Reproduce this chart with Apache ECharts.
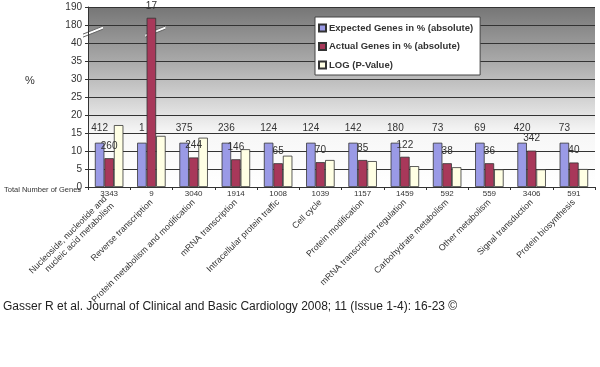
<!DOCTYPE html>
<html><head><meta charset="utf-8">
<script src="https://cdn.jsdelivr.net/npm/echarts@6/dist/echarts.min.js"></script>
<style>html,body{margin:0;padding:0;background:#fff}#c{width:600px;height:367px}</style>
</head><body><div id="c"></div>
<script>
const categories = ["Nucleoside, nucleotide and\nnucleic acid metabolism","Reverse transcription","Protein metabolism and modification","mRNA transcription","Intracellular protein traffic","Cell cycle","Protein modification","mRNA transcription regulation","Carbohydrate metabolism","Other metabolism","Signal transduction","Protein biosynthesis"];
const totalGenes = ["3343","9","3040","1914","1008","1039","1157","1459","592","559","3406","591"];
const expectedPct = [12.3,12.3,12.3,12.3,12.3,12.3,12.3,12.3,12.3,12.3,12.3,12.3];
const actualPct = [8.0,184,8.2,7.7,6.6,6.9,7.5,8.4,6.6,6.6,10.1,6.8];
const logP = [17.2,14.2,13.7,10.5,8.7,7.5,7.2,5.8,5.5,4.9,4.9,5.0];
const expectedLabels = ["412","1","375","236","124","124","142","180","73","69","420","73"];
const actualLabels = ["260","17","244","146","65","70","85","122","38","36","342","40"];
const yTickLabels = {0:"0",5:"5",10:"10",15:"15",20:"20",25:"25",30:"30",35:"35",40:"40",45:"180",50:"190"};

// broken axis: 0..40 linear, then 180..190 compressed into one 5-unit step
function mapV(v){ return v <= 40 ? v : 45 + (v - 180) / 2; }

const chart = echarts.init(document.getElementById('c'), null, {renderer:'canvas'});
const font = 'Liberation Sans, Arial, sans-serif';
const barStyle = c => ({color:c, borderColor:'#333', borderWidth:0.8});
const lblStyle = (arr, dist) => ({show:true, position:'top', distance:dist, fontFamily:font, fontSize:10, color:'#333',
  formatter: p => arr[p.dataIndex]});

chart.setOption({
  animation:false,
  backgroundColor:'#fff',
  grid:{left:88, right:5, top:7, bottom:180, show:true, borderWidth:0,
    backgroundColor:{type:'linear',x:0,y:0,x2:0,y2:1,colorStops:[
      {offset:0,color:'#767676'},{offset:0.3,color:'#a9a9a9'},{offset:0.55,color:'#dadada'},
      {offset:0.7,color:'#f7f7f7'},{offset:1,color:'#ffffff'}]}},
  legend:{show:true, orient:'vertical', left:315, top:17, itemWidth:7, itemHeight:7, itemGap:8.5,
    padding:[6,7,5,3], backgroundColor:'#fff', borderColor:'#444', borderWidth:1,
    icon:'rect',
    textStyle:{fontFamily:font, fontSize:9.5, fontWeight:'bold', color:'#333', padding:[0,0,0,-2]}},
  xAxis:[
    {type:'category', data:totalGenes, position:'bottom',
     axisLine:{lineStyle:{color:'#333'}}, axisTick:{show:true, length:3, lineStyle:{color:'#333'}},
     axisLabel:{fontFamily:font, fontSize:8, color:'#333', margin:3}},
    {type:'category', data:categories, position:'bottom', offset:14,
     axisLine:{show:false}, axisTick:{show:false},
     axisLabel:{rotate:45, interval:0, fontFamily:font, fontSize:8.8, color:'#333', margin:0, lineHeight:10}}
  ],
  yAxis:{type:'value', min:0, max:50, interval:5,
    axisLine:{show:true, lineStyle:{color:'#333'}}, axisTick:{show:true, length:3, lineStyle:{color:'#333'}},
    splitLine:{show:true, lineStyle:{color:'#333', width:1}},
    axisLabel:{fontFamily:font, fontSize:10, color:'#333', margin:6, formatter:v => yTickLabels[v] || ''}},
  series:[
    {name:'Expected Genes in % (absolute)', type:'bar', xAxisIndex:0, barWidth:9.5, barGap:'0%',
     data:expectedPct.map(mapV), itemStyle:barStyle('#9a9ae6'), label:lblStyle(expectedLabels,9)},
    {name:'Actual Genes in % (absolute)', type:'bar', xAxisIndex:0, barWidth:9.5, barGap:'0%',
     data:actualPct.map(mapV), itemStyle:barStyle('#a8385a'), label:lblStyle(actualLabels,7)},
    {name:'LOG (P-Value)', type:'bar', xAxisIndex:0, barWidth:9.5, barGap:'0%',
     data:logP.map(mapV), itemStyle:barStyle('#ffffe4')}
  ]
});

// break marks at the axis gap
const yb = chart.convertToPixel({yAxisIndex:0}, 43.3);
const x0 = chart.convertToPixel({xAxisIndex:0}, 0) - 42.25/2;
const xr = chart.convertToPixel({seriesIndex:1}, [1, mapV(actualPct[1])])[0];
function brk(cx, w){
  return [
    {type:'polygon', shape:{points:[[cx-w,yb+3],[cx+w,yb-5],[cx+w,yb-2],[cx-w,yb+6]]}, style:{fill:'#fff'}},
    {type:'line', shape:{x1:cx-w,y1:yb+3,x2:cx+w,y2:yb-5}, style:{stroke:'#666', lineWidth:1}},
    {type:'line', shape:{x1:cx-w,y1:yb+6,x2:cx+w,y2:yb-2}, style:{stroke:'#666', lineWidth:1}}
  ];
}
chart.setOption({graphic:[
  ...brk(x0+5, 10), ...brk(xr+4, 10),
  {type:'text', left:25, top:75, style:{text:'%', fontFamily:font, fontSize:11, fill:'#333'}},
  {type:'text', left:4, top:186, style:{text:'Total Number of Genes', fontFamily:font, fontSize:7.5, fill:'#333'}},
  {type:'text', left:3, top:301, style:{text:'Gasser R et al. Journal of Clinical and Basic Cardiology 2008; 11 (Issue 1-4): 16-23 \u00A9', fontFamily:font, fontSize:12, fill:'#222'}}
]});
</script></body></html>
